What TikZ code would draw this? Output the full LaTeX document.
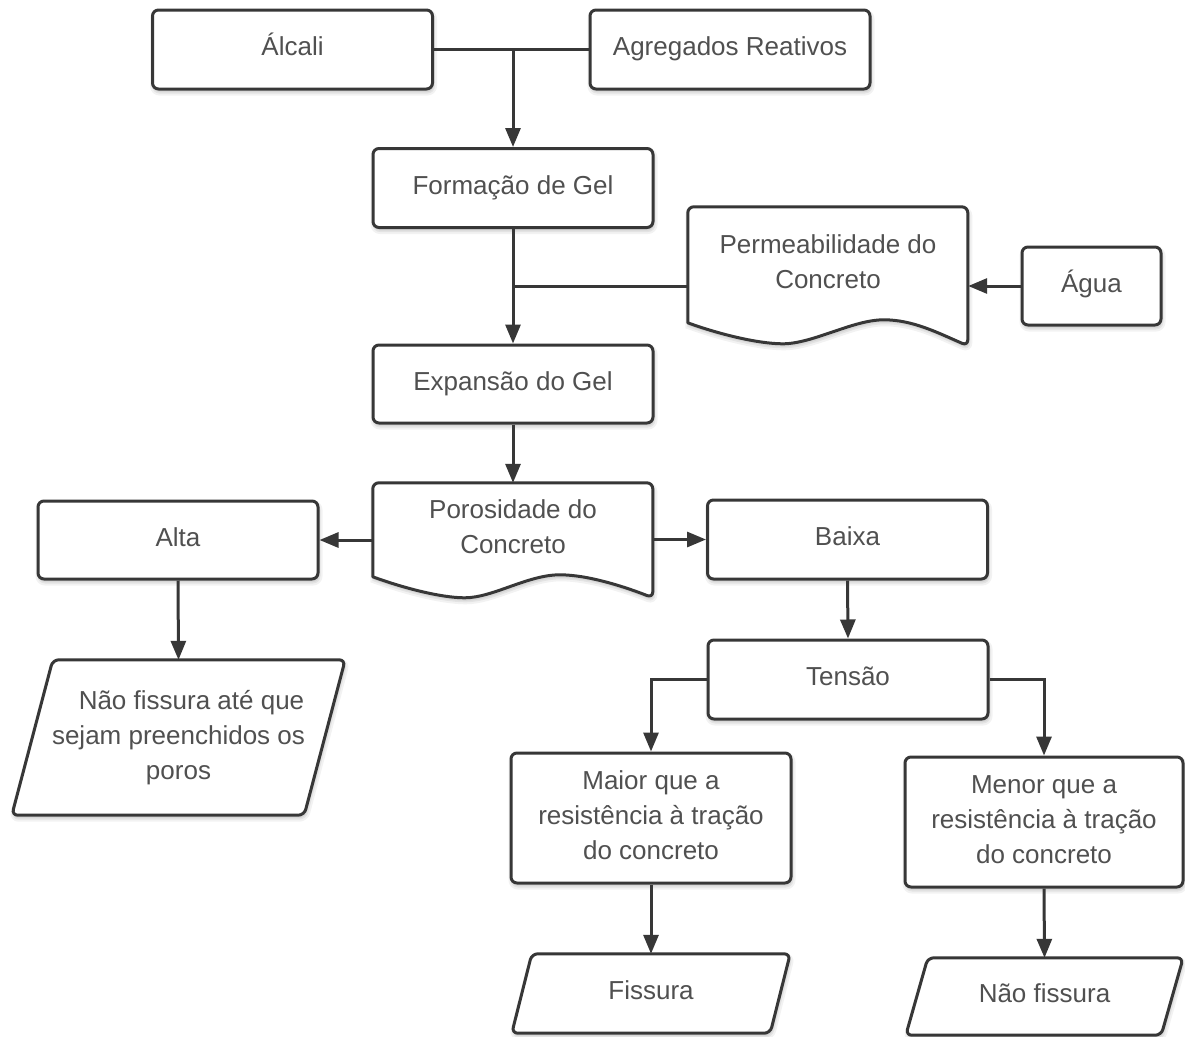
\documentclass[tikz,border=0pt]{standalone}
\usepackage{fontspec}
\setmainfont{Liberation Sans}
\usetikzlibrary{arrows.meta,backgrounds,calc}
\definecolor{linec}{RGB}{55,55,55}
\definecolor{textc}{RGB}{80,80,80}
\tikzset{
  lbl/.style={font=\fontsize{26}{35}\selectfont, text=textc, align=center, inner sep=0pt},
  shd/.style={
    preaction={draw=black, draw opacity=0.05, line width=7pt, fill=black, fill opacity=0.05, transform canvas={xshift=1pt, yshift=-3pt}},
    preaction={draw=black, draw opacity=0.06, line width=3pt, transform canvas={xshift=1pt, yshift=-3pt}}},
  outline/.style={draw=linec, line width=3pt, fill=white, line join=round, shd},
  box/.style={lbl, outline, rounded corners=6pt, minimum width=280pt, minimum height=79pt},
  one/.style={text height=12.5pt, text depth=0pt},
  conn/.style={draw=linec, line width=3pt},
  arr/.style={conn, -{Triangle[length=19pt, width=15pt]}},
}
\begin{document}
\begin{tikzpicture}[x=1pt,y=-1pt]
\useasboundingbox (0,0) rectangle (1185,1036);
\begin{scope}[on background layer]
  \fill[white] (0,0) rectangle (1185,1036);
\end{scope}

% nodes
\node[box, one] (alcali) at (292.5,49.5) {Álcali};
\node[box, one] (agreg) at (730,49.5) {Agregados Reativos};
\node[box, one] (formacao) at (513,188) {Formação de Gel};
\node[lbl, minimum width=280pt, minimum height=110pt] (perm) at (828,262) {Permeabilidade do\\Concreto};
\node[box, one, minimum width=139pt, minimum height=78pt] (agua) at (1091.5,286) {Água};
\node[box, one, minimum height=78pt] (expansao) at (513,384) {Expansão do Gel};
\node[lbl, minimum width=280pt, minimum height=88pt] (poro) at (513,527) {Porosidade do\\Concreto};
\node[box, one, minimum height=78pt] (alta) at (178,540) {Alta};
\node[box, one] (baixa) at (847.5,539.5) {Baixa};
\node[box, one] (tensao) at (848,679.5) {Tensão};
\node[box, text depth=5pt, minimum height=130pt] (maior) at (651,818) {Maior que a\\resistência à tração\\do concreto};
\node[box, text depth=5pt, minimum width=278pt, minimum height=130pt] (menor) at (1044,822) {Menor que a\\resistência à tração\\do concreto};
\node[lbl, minimum width=333pt, minimum height=155pt] (poros) at (178.5,737.5) {\hspace*{26pt}Não fissura até que\\sejam preenchidos os\\poros};
\node[lbl, one, minimum width=278pt, minimum height=79pt] (fis) at (651,993.5) {Fissura};
\node[lbl, one, minimum width=277pt, minimum height=77pt] (nfis) at (1044.5,996.5) {Não fissura};

% outlines of document and data shapes
\begin{scope}[on background layer]
  \draw[outline, shift={(perm.north west)}] (0,116) [rounded corners=6pt] -- (0,0) -- (280,0) -- (280,139) [sharp corners]
    .. controls (250,126) and (225,113) .. (196,113)
    .. controls (165,113) and (125,137) .. (95,137)
    .. controls (70,137) and (30,127) .. (0,116) -- cycle;
  \draw[outline, shift={(poro.north west)}] (0,94) [rounded corners=6pt] -- (0,0) -- (280,0) -- (280,115) [sharp corners]
    .. controls (252,104) and (215,92) .. (187,92)
    .. controls (155,92) and (120,115) .. (92,115)
    .. controls (68,115) and (30,105) .. (0,94) -- cycle;
  \draw[outline, rounded corners=6pt] ([xshift=41pt]poros.north west) -- (poros.north east) -- ([xshift=-41pt]poros.south east) -- (poros.south west) -- cycle;
  \draw[outline, rounded corners=6pt] ([xshift=20pt]fis.north west) -- (fis.north east) -- ([xshift=-20pt]fis.south east) -- (fis.south west) -- cycle;
  \draw[outline, rounded corners=6pt] ([xshift=22pt]nfis.north west) -- (nfis.north east) -- ([xshift=-22pt]nfis.south east) -- (nfis.south west) -- cycle;
\end{scope}

% connectors
\draw[conn] (alcali.east) -- (agreg.west);
\draw[arr] (formacao.north |- alcali.east) -- (formacao.north);
\draw[arr] (formacao.south) -- (expansao.north);
\draw[conn] (perm.west |- agua.west) -- (formacao.south |- agua.west);
\draw[arr] (agua.west) -- (agua.west -| perm.east);
\draw[arr] (expansao.south) -- (poro.north);
\draw[arr] (poro.west |- alta.east) -- (alta.east);
\draw[arr] (poro.east |- baixa.west) -- (baixa.west);
\draw[arr] (alta.south) -- (poros.north);
\draw[arr] (baixa.south) -- (tensao.north);
\draw[arr] (tensao.west) -| (maior.north);
\draw[arr] (tensao.east) -| (menor.north);
\draw[arr] (maior.south) -- (fis.north);
\draw[arr] (menor.south) -- (nfis.north);
\end{tikzpicture}
\end{document}
